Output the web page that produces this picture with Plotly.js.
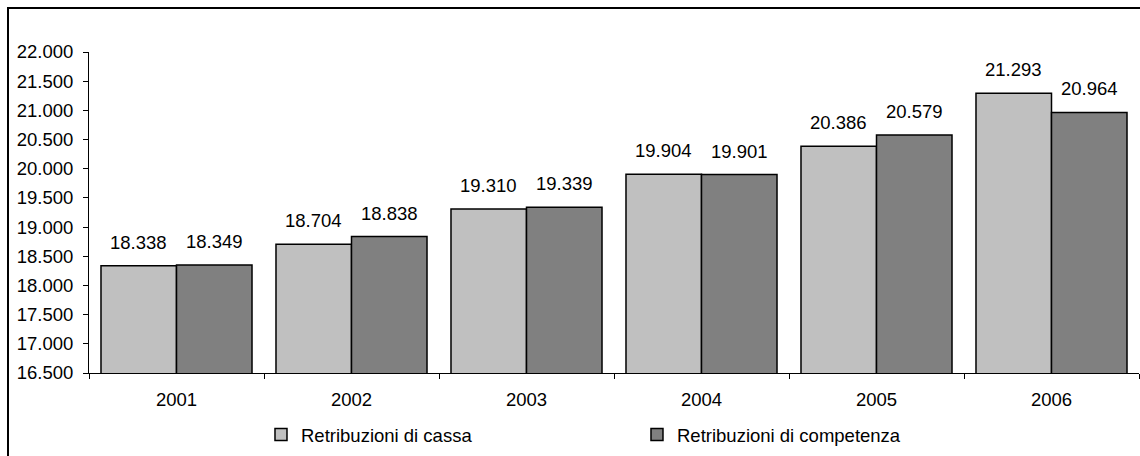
<!DOCTYPE html>
<html>
<head>
<meta charset="utf-8">
<script src="https://cdn.plot.ly/plotly-3.0.1.min.js"></script>
<style>html,body{margin:0;padding:0;background:#fff;}#chart{width:1140px;height:456px;}</style>
</head>
<body>
<div id="chart"></div>
<script>
const years = ['2001', '2002', '2003', '2004', '2005', '2006'];
const cassa = [18338, 18704, 19310, 19904, 20386, 21293];
const competenza = [18349, 18838, 19339, 19901, 20579, 20964];
const seriesNames = ['Retribuzioni di cassa', 'Retribuzioni di competenza'];
const yTicks = [16500, 17000, 17500, 18000, 18500, 19000, 19500, 20000, 20500, 21000, 21500, 22000];

const FONT = 'Liberation Sans, Arial, sans-serif';
const FS = 18.5;
const bargap = 0.137;
const off = (1 - bargap) / 4;

const fmt = v => {
  const s = String(Math.round(v));
  return s.replace(/\B(?=(\d{3})+(?!\d))/g, '.');
};

const traces = [
  {type: 'bar', name: seriesNames[0], x: years, y: cassa,
   marker: {color: '#C0C0C0', line: {color: '#000000', width: 1.5}}, hoverinfo: 'none'},
  {type: 'bar', name: seriesNames[1], x: years, y: competenza,
   marker: {color: '#808080', line: {color: '#000000', width: 1.5}}, hoverinfo: 'none'}
];

const annotations = [];
years.forEach((yr, i) => {
  annotations.push({x: i - off, y: cassa[i], xref: 'x', yref: 'y', text: fmt(cassa[i]),
    showarrow: false, yanchor: 'bottom', xanchor: 'center', yshift: 11,
    font: {family: FONT, size: FS, color: '#000'}});
  annotations.push({x: i + off, y: competenza[i], xref: 'x', yref: 'y', text: fmt(competenza[i]),
    showarrow: false, yanchor: 'bottom', xanchor: 'center', yshift: 11,
    font: {family: FONT, size: FS, color: '#000'}});
});

const layout = {
  width: 1140, height: 456,
  margin: {l: 89, r: 1, t: 52, b: 83},
  paper_bgcolor: '#ffffff', plot_bgcolor: '#ffffff',
  font: {family: FONT, size: FS, color: '#000'},
  separators: ',.',
  barmode: 'group', bargap: bargap, bargroupgap: 0,
  showlegend: true,
  legend: {orientation: 'h', x: 0.1638, xanchor: 'left', y: -0.193, yanchor: 'middle',
    font: {family: FONT, size: FS, color: '#000'}, entrywidth: 331, entrywidthmode: 'pixels',
    bgcolor: 'rgba(0,0,0,0)', borderwidth: 0},
  xaxis: {type: 'category', showgrid: false, zeroline: false, showline: true, linecolor: '#000', linewidth: 1,
    ticks: 'outside', tickson: 'boundaries', ticklen: 5, tickcolor: '#000', ticklabelstandoff: 10,
    tickfont: {family: FONT, size: FS, color: '#000'}},
  yaxis: {range: [16500, 22000], tickvals: yTicks, ticktext: yTicks.map(fmt), showgrid: false, zeroline: false,
    showline: true, linecolor: '#000', linewidth: 1, ticks: 'outside', ticklen: 5, tickcolor: '#000',
    ticklabelstandoff: 6, tickfont: {family: FONT, size: FS, color: '#000'}},
  annotations: annotations,
  shapes: [{type: 'rect', xref: 'paper', yref: 'paper', x0: -0.07714, x1: 1.02, y0: -0.3, y1: 1.13707,
    line: {color: '#000', width: 2}, fillcolor: 'rgba(0,0,0,0)', layer: 'above'}]
};

Plotly.newPlot('chart', traces, layout, {displayModeBar: false, staticPlot: true});
</script>
</body>
</html>
